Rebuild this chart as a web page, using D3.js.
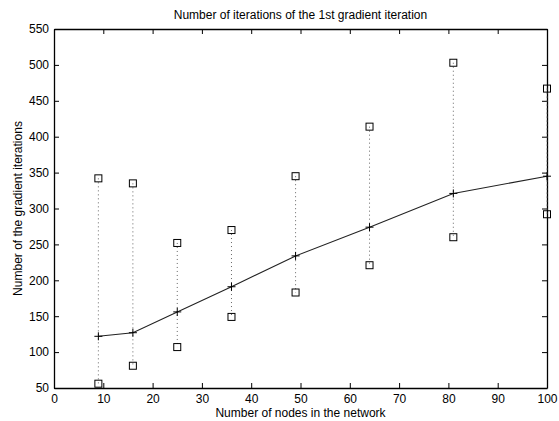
<!DOCTYPE html>
<html lang="en">
  <head>
    <script src="https://d3js.org/d3.v7.min.js"></script>
    <meta charset="utf-8">
    <title>Gradient iterations</title>
    <style>
      body { margin: 0; background: #fff; }
      text { font-family: "Liberation Sans", Arial, sans-serif; }
    </style>
  </head>
  <body>
    <svg id="chart"></svg>
    <script type="text/javascript">

     // nodes in the network and iteration counts (mean, max, min)
     var nodes = [9, 16, 25, 36, 49, 64, 81, 100];
     var meanIter = [122, 127, 156, 191, 234, 274, 321, 345];
     var maxIter = [342, 335, 252, 270, 345, 414, 503, 467];
     var minIter = [56, 81, 107, 149, 183, 221, 260, 292];
     var xTicks = [0, 10, 20, 30, 40, 50, 60, 70, 80, 90, 100];
     var yTicks = [50, 100, 150, 200, 250, 300, 350, 400, 450, 500, 550];

     var width = 559;
     var height = 421;
     var margin = {left: 54, right: 12, top: 29, bottom: 33};
     var fontSize = 12;

     var svg = d3.select("#chart")
       .attr("width", width)
       .attr("height", height);

     var x = d3.scaleLinear().domain([0, 100]).range([margin.left, width - margin.right]);
     var y = d3.scaleLinear().domain([50, 550]).range([height - margin.bottom, margin.top]);

     var data = nodes.map(function(n, i) {
       return {n: n, mean: meanIter[i], max: maxIter[i], min: minIter[i]};
     });

     // axes, ticks pointing inwards
     var tickLen = 5;
     svg.append("g")
       .attr("transform", "translate(0," + y(50) + ")")
       .call(d3.axisBottom(x).tickValues(xTicks).tickSizeInner(-tickLen).tickSizeOuter(0).tickPadding(6));
     svg.append("g")
       .attr("transform", "translate(0," + y(550) + ")")
       .call(d3.axisTop(x).tickValues(xTicks).tickSizeInner(-tickLen).tickSizeOuter(0).tickFormat(""));
     svg.append("g")
       .attr("transform", "translate(" + x(0) + ",0)")
       .call(d3.axisLeft(y).tickValues(yTicks).tickSizeInner(-tickLen).tickSizeOuter(0).tickPadding(5));
     svg.append("g")
       .attr("transform", "translate(" + x(100) + ",0)")
       .call(d3.axisRight(y).tickValues(yTicks).tickSizeInner(-tickLen).tickSizeOuter(0).tickFormat(""));

     svg.selectAll(".domain").attr("stroke", "#000").attr("stroke-width", 1.3);
     svg.selectAll(".tick line").attr("stroke", "#000");
     svg.selectAll(".tick text").attr("font-size", fontSize).attr("fill", "#000")
       .attr("font-family", "'Liberation Sans', Arial, sans-serif");

     // dotted range lines
     svg.selectAll(".range")
       .data(data)
       .enter()
       .append("line")
       .attr("x1", function(d) { return x(d.n); })
       .attr("x2", function(d) { return x(d.n); })
       .attr("y1", function(d) { return y(d.max); })
       .attr("y2", function(d) { return y(d.min); })
       .attr("stroke", "#666")
       .attr("stroke-width", 1)
       .attr("stroke-dasharray", "1,3");

     // mean line
     var line = d3.line()
       .x(function(d) { return x(d.n); })
       .y(function(d) { return y(d.mean); });
     svg.append("path")
       .datum(data)
       .attr("d", line)
       .attr("fill", "none")
       .attr("stroke", "#222")
       .attr("stroke-width", 1.1);

     // plus markers
     var p = 4;
     svg.selectAll(".plus")
       .data(data)
       .enter()
       .append("path")
       .attr("d", function(d) {
         var cx = x(d.n), cy = y(d.mean);
         return "M" + (cx - p) + "," + cy + "H" + (cx + p) + "M" + cx + "," + (cy - p) + "V" + (cy + p);
       })
       .attr("stroke", "#000")
       .attr("stroke-width", 1);

     // square markers for max and min
     var s = 7;
     var extremes = [];
     data.forEach(function(d) {
       extremes.push({n: d.n, v: d.max});
       extremes.push({n: d.n, v: d.min});
     });
     svg.selectAll(".sq")
       .data(extremes)
       .enter()
       .append("rect")
       .attr("x", function(d) { return x(d.n) - s / 2; })
       .attr("y", function(d) { return y(d.v) - s / 2; })
       .attr("width", s)
       .attr("height", s)
       .attr("fill", "none")
       .attr("stroke", "#000")
       .attr("stroke-width", 1);

     // labels
     svg.append("text")
       .attr("x", (x(0) + x(100)) / 2)
       .attr("y", 19)
       .attr("text-anchor", "middle")
       .attr("font-size", fontSize)
       .text("Number of iterations of the 1st gradient iteration");
     svg.append("text")
       .attr("x", (x(0) + x(100)) / 2)
       .attr("y", 417)
       .attr("text-anchor", "middle")
       .attr("font-size", fontSize)
       .text("Number of nodes in the network");
     svg.append("text")
       .attr("transform", "translate(22," + (y(50) + y(550)) / 2 + ") rotate(-90)")
       .attr("text-anchor", "middle")
       .attr("font-size", fontSize)
       .text("Number of the gradient iterations");

    </script>
  </body>
</html>
